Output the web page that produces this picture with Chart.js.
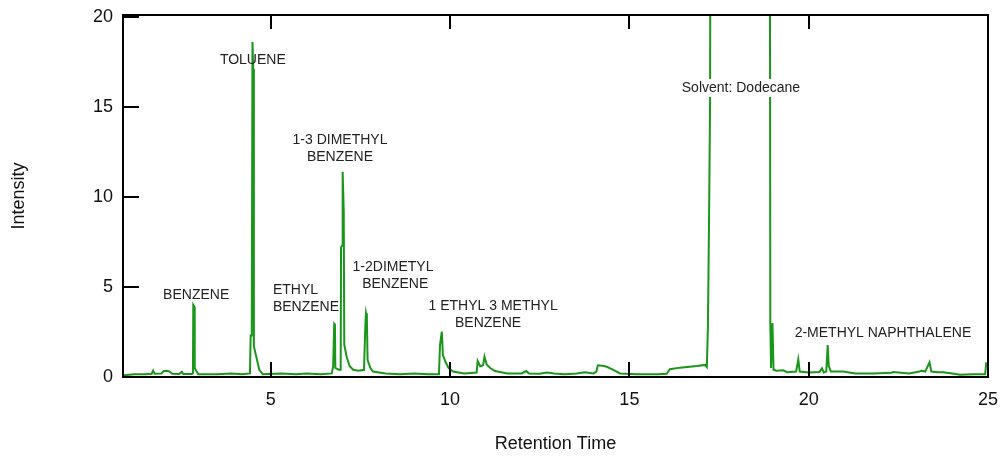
<!DOCTYPE html>
<html>
<head>
<meta charset="utf-8">
<script src="https://cdn.jsdelivr.net/npm/chart.js@4.4.1/dist/chart.umd.min.js"></script>
<style>
  html, body { margin: 0; padding: 0; background: #fff; }
  #wrap { position: relative; width: 1000px; height: 456px; }
</style>
</head>
<body>
<div id="wrap"><canvas id="c"></canvas></div>
<script>
// ---- Data ----
const retentionTime = [
  0.90, 1.20, 1.50, 1.68, 1.72, 1.76, 1.95, 2.02, 2.10, 2.18, 2.25, 2.45, 2.52, 2.56, 2.80, 2.83, 2.84, 2.87, 2.88, 2.92, 2.98,
  3.50, 3.90, 4.20, 4.42, 4.44, 4.47, 4.49, 4.51, 4.53, 4.60, 4.68, 4.78,
  5.30, 5.70, 6.00, 6.40, 6.70, 6.74, 6.77, 6.79, 6.80, 6.90, 6.95, 6.96, 6.99, 7.005, 7.035, 7.05, 7.12, 7.20, 7.30, 7.45,
  7.60, 7.64, 7.656, 7.68, 7.70, 7.78, 7.85, 8.20, 8.60, 9.00, 9.40,
  9.69, 9.72, 9.77, 9.80, 9.88, 9.96, 10.08, 10.40, 10.74, 10.77, 10.84, 10.92, 10.96, 11.02, 11.12, 11.25,
  11.60, 12.00, 12.12, 12.20, 12.50, 12.70, 12.90, 13.20, 13.53, 13.76, 14.00,
  14.08, 14.12, 14.25, 14.37, 14.55, 14.74, 15.20, 15.80, 16.04, 16.13, 16.41, 16.88, 17.11, 17.16,
  17.19, 17.22, 17.25, 17.29, 18.90, 18.93, 18.95, 18.99, 19.02, 19.10, 19.29, 19.40, 19.65, 19.71, 19.75,
  20.00, 20.30, 20.37, 20.42, 20.49, 20.53, 20.56, 20.62, 20.96, 21.30, 21.80, 22.31, 22.36, 22.80,
  23.09, 23.14, 23.25, 23.37, 23.42, 23.60, 23.75, 24.00, 24.22, 24.60, 24.92, 24.95, 25.00
];
const intensity = [
  0.10, 0.15, 0.15, 0.18, 0.35, 0.18, 0.20, 0.33, 0.35, 0.30, 0.18, 0.17, 0.29, 0.17, 0.17, 0.20, 4.00, 3.90, 0.50, 0.35, 0.15,
  0.15, 0.20, 0.15, 0.20, 2.30, 2.30, 18.60, 17.10, 1.70, 1.10, 0.40, 0.15,
  0.20, 0.15, 0.20, 0.15, 0.20, 0.57, 2.95, 2.90, 0.50, 0.40, 0.40, 7.20, 7.30, 11.40, 9.20, 1.80, 1.10, 0.60, 0.40, 0.35,
  0.40, 3.00, 3.54, 3.27, 0.94, 0.50, 0.30, 0.20, 0.15, 0.20, 0.15,
  0.15, 1.78, 2.52, 1.22, 0.80, 0.50, 0.30, 0.20, 0.25, 0.89, 0.60, 0.65, 1.13, 0.70, 0.50, 0.33,
  0.20, 0.20, 0.33, 0.20, 0.18, 0.25, 0.20, 0.15, 0.20, 0.26, 0.20,
  0.30, 0.65, 0.62, 0.57, 0.40, 0.20, 0.15, 0.15, 0.18, 0.43, 0.52, 0.61, 0.67, 0.55,
  2.80, 8.40, 15.20, 60.0, 60.0, 3.00, 0.50, 3.00, 0.40, 0.35, 0.37, 0.27, 0.30, 0.98, 0.30,
  0.25, 0.28, 0.48, 0.25, 0.30, 1.78, 0.60, 0.30, 0.30, 0.20, 0.20, 0.24, 0.28, 0.20,
  0.30, 0.35, 0.30, 0.82, 0.30, 0.26, 0.26, 0.20, 0.12, 0.15, 0.15, 0.76, 0.70
];
const xTickValues = [5, 10, 15, 20, 25];
const yTickValues = [0, 5, 10, 15, 20];

// Peak labels (anchored in data units)
const labelText = ['BENZENE', 'TOLUENE', '1-3 DIMETHYL', 'BENZENE', 'ETHYL', 'BENZENE', '1-2DIMETYL', 'BENZENE',
                   '1 ETHYL 3 METHYL', 'BENZENE', 'Solvent: Dodecane', '2-METHYL NAPHTHALENE'];
const labelX = [2.92, 4.50, 6.93, 6.93, 5.06, 5.06, 8.41, 8.47, 11.20, 11.06, 18.11, 22.07];
const labelY = [4.55, 17.6, 13.16, 12.22, 4.83, 3.89, 6.11, 5.16, 3.94, 3.00, 16.05, 2.44];
const labelAlign = ['center', 'center', 'center', 'center', 'left', 'left', 'center', 'center', 'center', 'center', 'center', 'center'];
const labelBoxed = [false, false, false, false, false, false, false, false, false, false, true, false];

const FONT = "'Liberation Sans', Arial, Helvetica, sans-serif";

const points = retentionTime.map((t, i) => ({ x: t, y: intensity[i] }));

const framePlugin = {
  id: 'frame',
  afterDraw(chart) {
    const { ctx, chartArea: a, scales: { x, y } } = chart;
    ctx.save();
    ctx.strokeStyle = '#000';
    ctx.lineWidth = 2;
    ctx.beginPath();
    xTickValues.forEach(v => {
      const px = Math.round(x.getPixelForValue(v));
      ctx.moveTo(px, a.bottom); ctx.lineTo(px, a.bottom - 15);
      ctx.moveTo(px, a.top); ctx.lineTo(px, a.top + 14);
    });
    yTickValues.forEach(v => {
      const py = Math.round(y.getPixelForValue(v));
      ctx.moveTo(a.left, py); ctx.lineTo(a.left + 16, py);
    });
    ctx.stroke();
    ctx.strokeRect(a.left, a.top, a.right - a.left, a.bottom - a.top);
    ctx.restore();
  }
};

const labelPlugin = {
  id: 'peakLabels',
  afterDatasetsDraw(chart) {
    const { ctx, scales: { x, y } } = chart;
    ctx.save();
    ctx.font = '14px ' + FONT;
    ctx.textBaseline = 'middle';
    labelText.forEach((txt, i) => {
      const px = x.getPixelForValue(labelX[i]);
      const py = y.getPixelForValue(labelY[i]);
      ctx.textAlign = labelAlign[i];
      if (labelBoxed[i]) {
        const w = ctx.measureText(txt).width;
        const left = labelAlign[i] === 'center' ? px - w / 2 : px;
        ctx.fillStyle = '#fff';
        ctx.fillRect(left - 3, py - 9, w + 6, 18);
      }
      ctx.fillStyle = '#222';
      ctx.fillText(txt, px, py);
    });
    ctx.restore();
  }
};

new Chart(document.getElementById('c'), {
  type: 'line',
  data: {
    datasets: [{
      data: points,
      borderColor: '#1a961a',
      borderWidth: 2,
      pointRadius: 0,
      tension: 0,
      fill: false
    }]
  },
  options: {
    responsive: true,
    maintainAspectRatio: false,
    animation: false,
    layout: { padding: { top: 15, right: 12, left: 0, bottom: 0 } },
    plugins: { legend: { display: false }, tooltip: { enabled: false } },
    scales: {
      x: {
        type: 'linear',
        min: 0.88,
        max: 25,
        afterBuildTicks(scale) { scale.ticks = xTickValues.map(v => ({ value: v })); },
        afterFit(scale) { scale.height = 79; scale.paddingLeft = 0; scale.paddingRight = 0; },
        grid: { display: false, drawTicks: false },
        border: { display: false },
        ticks: { color: '#111', font: { family: FONT, size: 18 }, padding: 12, maxRotation: 0 },
        title: { display: true, text: 'Retention Time', color: '#111', font: { family: FONT, size: 18 }, padding: { top: 0, bottom: 1 } }
      },
      y: {
        type: 'linear',
        min: 0,
        max: 20.1,
        afterBuildTicks(scale) { scale.ticks = yTickValues.map(v => ({ value: v })); },
        afterFit(scale) { scale.width = 123; scale.paddingTop = 0; scale.paddingBottom = 0; },
        grid: { display: false, drawTicks: false },
        border: { display: false },
        ticks: { color: '#111', font: { family: FONT, size: 18 }, padding: 10 },
        title: { display: true, text: 'Intensity', color: '#111', font: { family: FONT, size: 18 }, padding: { top: 8, bottom: 0 } }
      }
    }
  },
  plugins: [framePlugin, labelPlugin]
});
</script>
</body>
</html>
